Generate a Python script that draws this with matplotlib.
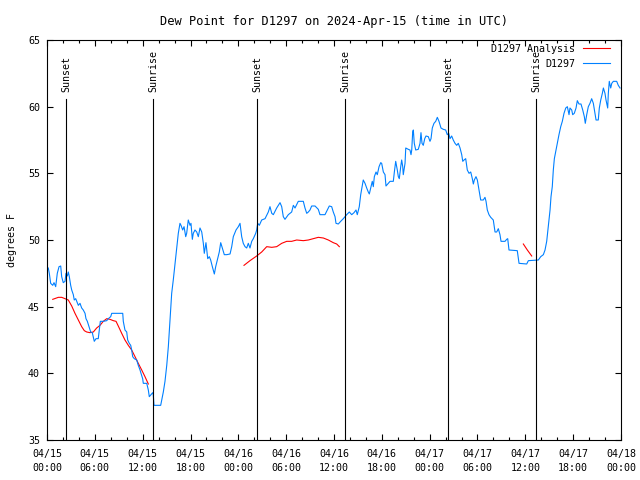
import numpy as np
import matplotlib
matplotlib.use('Agg')
from matplotlib import pyplot as plt
from matplotlib.ticker import MultipleLocator

plt.rcParams['font.family'] = ['DejaVu Sans Mono']
plt.rcParams['font.size'] = 7.2

# observed dew point, hours since 2024-04-15 00:00 UTC
obs_hours = [0.16, 0.29, 0.46, 0.72, 0.88, 1.09, 1.29, 1.51, 1.72, 1.84, 2.04, 2.26, 2.38, 2.55, 2.67,
             2.80, 2.97, 3.10, 3.30, 3.42, 3.60, 3.73, 3.93, 4.14, 4.35, 4.55, 4.77, 4.89, 5.06, 5.27,
             5.48, 5.68, 5.81, 5.93, 6.15, 6.43, 6.56, 6.69, 7.06, 7.49, 7.69, 7.99, 8.12, 9.50, 9.57,
             9.78, 10.00, 10.12, 10.32, 10.50, 10.62, 10.75, 10.95, 11.25, 11.45, 11.67, 11.79, 12.00,
             12.08, 12.51, 12.71, 12.83, 13.05, 13.26, 13.33, 13.42, 14.26, 14.39, 14.59, 14.80, 15.02,
             15.22, 15.43, 15.64, 15.84, 16.06, 16.27, 16.47, 16.68, 16.81, 17.02, 17.19, 17.40, 17.52,
             17.72, 17.94, 18.06, 18.23, 18.35, 18.56, 18.78, 18.98, 19.19, 19.41, 19.61, 19.73, 19.94,
             20.16, 20.36, 20.53, 20.74, 20.99, 21.16, 21.36, 21.61, 21.79, 21.99, 22.24, 22.54, 22.96,
             23.17, 23.37, 23.71, 24.00, 24.21, 24.42, 24.62, 24.84, 25.05, 25.25, 25.46, 25.68, 25.88,
             26.18, 26.30, 26.43, 26.63, 26.93, 27.35, 27.76, 27.97, 28.19, 28.39, 28.81, 29.23, 29.44,
             29.64, 29.85, 30.27, 30.69, 30.90, 31.11, 31.52, 32.15, 32.36, 32.58, 32.78, 32.99, 33.20,
             33.62, 34.03, 34.24, 34.87, 35.16, 35.41, 35.71, 35.91, 36.13, 36.25, 36.54, 36.84, 37.17,
             37.59, 37.92, 38.22, 38.51, 38.76, 38.92, 39.17, 39.35, 39.55, 39.67, 39.89, 40.10, 40.30,
             40.43, 40.64, 40.80, 40.93, 41.06, 41.27, 41.43, 41.65, 41.86, 41.98, 42.19, 42.40, 42.52,
             42.81, 43.03, 43.44, 43.57, 43.74, 43.94, 44.07, 44.19, 44.37, 44.49, 44.62, 44.69, 44.91,
             45.00, 45.32, 45.53, 45.66, 45.75, 45.87, 45.95, 46.07, 46.25, 46.57, 46.79, 46.91, 47.04,
             47.20, 47.38, 47.54, 47.83, 48.04, 48.17, 48.33, 48.54, 48.76, 48.96, 49.17, 49.42, 49.71,
             50.01, 50.21, 50.39, 50.55, 50.76, 50.96, 51.18, 51.39, 51.59, 51.81, 52.02, 52.15, 52.31,
             52.52, 52.72, 52.94, 53.15, 53.35, 53.48, 53.60, 53.81, 53.98, 54.19, 54.40, 54.73, 54.94,
             55.07, 55.23, 55.44, 55.66, 55.98, 56.20, 56.41, 56.61, 56.82, 56.95, 57.45, 57.66, 57.79,
             57.95, 58.99, 59.21, 60.17, 60.38, 61.63, 61.93, 62.26, 62.47, 62.68, 62.88, 63.10, 63.22,
             63.38, 63.51, 63.64, 63.85, 64.01, 64.22, 64.44, 64.64, 64.85, 65.07, 65.27, 65.48, 65.60,
             65.82, 65.94, 66.14, 66.36, 66.52, 66.73, 66.98, 67.20, 67.40, 67.52, 67.70, 67.90, 68.11,
             68.32, 68.53, 68.74, 68.87, 69.15, 69.28, 69.46, 69.66, 69.79, 69.99, 70.12, 70.33, 70.41,
             70.53, 70.71, 70.84, 71.04, 71.46, 71.66, 71.88]
obs_dewpt = [47.9, 47.5, 46.75, 46.6, 46.8, 46.5, 47.5, 48.0, 48.05, 47.25, 46.8, 46.9, 47.5, 47.3, 47.6,
             47.25, 46.6, 46.25, 45.9, 45.5, 45.6, 45.4, 45.1, 45.25, 44.9, 44.75, 44.5, 44.1, 43.9, 43.5,
             43.1, 43.05, 42.7, 42.4, 42.6, 42.6, 43.25, 43.9, 43.9, 43.95, 44.1, 44.25, 44.5, 44.5, 43.9,
             43.25, 43.1, 42.5, 42.25, 42.1, 41.75, 41.25, 41.1, 41.0, 40.6, 40.25, 40.0, 39.6,
             39.25, 39.25, 38.75, 38.25, 38.4, 38.55, 38.4, 37.6, 37.6, 38.0, 38.6, 39.4, 40.6,
             42.0, 44.0, 46.0, 47.0, 48.25, 49.5, 50.5, 51.25, 51.1, 50.75, 51.0, 50.25, 50.5,
             51.5, 51.1, 51.25, 50.05, 50.5, 50.75, 50.6, 50.25, 50.9, 50.6, 49.75, 49.0, 49.8,
             48.6, 48.75, 48.5, 48.0, 47.45, 48.0, 48.5, 49.1, 49.8, 49.4, 48.9, 48.9, 48.95,
             49.5, 50.25, 50.75, 51.0, 51.25, 50.25, 49.75, 49.5, 49.4, 49.75, 49.4, 49.9, 50.1,
             50.5, 50.75, 51.25, 51.1, 51.5, 51.6, 52.1, 52.5, 52.0, 51.9, 52.4, 52.8, 52.5,
             51.75, 51.55, 51.9, 52.1, 52.6, 52.4, 52.9, 52.9, 52.4, 52.0, 52.1, 52.25, 52.55,
             52.55, 52.3, 51.9, 51.9, 52.25, 52.55, 52.5, 52.1, 51.75, 51.25, 51.2, 51.4, 51.6,
             51.9, 52.1, 51.9, 52.05, 52.25, 51.9, 52.5, 53.4, 54.1, 54.5, 54.25, 53.9, 53.6,
             53.45, 54.0, 54.4, 54.0, 54.75, 55.1, 54.9, 55.5, 55.8, 55.75, 55.1, 54.9, 54.05,
             54.25, 54.4, 54.4, 55.1, 55.9, 55.25, 54.75, 54.6, 55.5, 56.0, 55.5, 54.9, 55.75,
             56.9, 56.8, 56.75, 56.4, 56.75, 58.1, 58.25, 57.25, 56.75, 56.8, 57.25, 58.05, 57.25,
             57.1, 57.6, 57.8, 57.75, 57.4, 57.6, 58.4, 58.75, 58.9, 59.2, 58.9, 58.4, 58.3,
             58.25, 57.9, 58.0, 57.6, 57.8, 57.5, 57.25, 57.1, 57.25, 56.9, 56.4, 55.9, 56.0,
             56.1, 55.25, 55.0, 55.1, 54.6, 54.2, 54.5, 54.75, 54.5, 53.75, 53.0, 53.0, 53.2,
             52.9, 52.25, 51.9, 51.7, 51.5, 50.6, 50.6, 50.85, 50.4, 49.9, 49.9, 50.05, 50.1,
             49.25, 49.2, 48.25, 48.2, 48.45, 48.5, 48.75, 48.9, 49.25, 49.9, 51.0, 52.25, 53.25,
             54.0, 55.25, 56.1, 56.75, 57.25, 57.9, 58.5, 58.9, 59.5, 59.9, 60.0, 59.4, 59.9,
             59.75, 59.4, 59.5, 59.9, 60.45, 60.2, 60.2, 59.75, 59.25, 58.75, 59.4, 60.0, 60.25,
             60.6, 60.25, 59.5, 59.0, 59.0, 59.9, 60.5, 61.0, 61.4, 61.0, 60.5, 59.9, 61.0,
             61.9, 61.4, 61.75, 61.9, 61.9, 61.6, 61.4]

# analysis dew point (gaps are NaN)
ana_hours = [0.72, 1.42, 1.84, 2.26, 2.67, 3.10, 3.51, 3.93, 4.35, 4.68, 4.98, 5.39, 5.81, 6.23, 6.65,
             7.06, 7.49, 7.90, 8.32, 8.66, 8.94, 9.37, 9.78, 10.20, 10.62, 11.04, 11.45, 11.88, 12.29,
             12.71, 18.0,
             24.71, 25.46, 26.30, 26.93, 27.56, 28.19, 28.81, 29.44, 30.07, 30.69, 31.32, 32.15, 32.78,
             33.40, 34.03, 34.66, 35.29, 35.91, 36.34, 36.67, 48.0,
             59.75, 60.25, 60.80]
ana_dewpt = [45.55, 45.7, 45.7, 45.6, 45.5, 45.05, 44.5, 44.0, 43.5, 43.2, 43.1, 43.05, 43.1, 43.4, 43.6,
             43.9, 44.1, 44.05, 43.95, 43.9, 43.55, 43.0, 42.5, 42.1, 41.75, 41.25, 40.75, 40.25, 39.75,
             39.2, np.nan,
             48.1, 48.45, 48.8, 49.1, 49.5, 49.45, 49.5, 49.75, 49.9, 49.9, 50.0, 49.95, 50.0,
             50.1, 50.2, 50.15, 50.0, 49.8, 49.7, 49.5, np.nan,
             49.7, 49.25, 48.8]

event_hours = [2.38, 13.30, 26.34, 37.38, 50.30, 61.34]
event_names = ['Sunset', 'Sunrise', 'Sunset', 'Sunrise', 'Sunset', 'Sunrise']

tick_hours = [0, 6, 12, 18, 24, 30, 36, 42, 48, 54, 60, 66, 72]
tick_labels = ['04/15\n00:00', '04/15\n06:00', '04/15\n12:00', '04/15\n18:00',
               '04/16\n00:00', '04/16\n06:00', '04/16\n12:00', '04/16\n18:00',
               '04/17\n00:00', '04/17\n06:00', '04/17\n12:00', '04/17\n18:00',
               '04/18\n00:00']

fig = plt.figure(figsize=(6.4, 4.8), dpi=100)
ax = fig.add_axes([47 / 640, 40 / 480, 574 / 640, 400 / 480])

ax.plot(ana_hours, ana_dewpt, color='#ff0000', lw=0.8, label='D1297 Analysis')
ax.plot(obs_hours, obs_dewpt, color='#0080ff', lw=0.8, label='D1297')

for h, name in zip(event_hours, event_names):
    ax.plot([h, h], [35, 60.6], color='black', lw=0.8)
    ax.text(h, 61.1, name, rotation=90, ha='center', va='bottom')

ax.set_xlim(0, 72)
ax.set_ylim(35, 65)
ax.set_xticks(tick_hours)
ax.set_xticklabels(tick_labels, linespacing=1.45)
ax.xaxis.set_minor_locator(MultipleLocator(2))
ax.set_yticks([35, 40, 45, 50, 55, 60, 65])
ax.tick_params(which='both', direction='in', top=True, right=True, width=0.8)
ax.tick_params(which='major', length=4.5)
ax.tick_params(which='minor', length=2.5)
ax.tick_params(axis='x', pad=6.5)
ax.tick_params(axis='y', pad=5)
for s in ax.spines.values():
    s.set_linewidth(0.8)

ax.set_title('Dew Point for D1297 on 2024-Apr-15 (time in UTC)', pad=11)
ax.set_ylabel('degrees F', labelpad=8)

ax.legend(loc='upper right', bbox_to_anchor=(1 - 11 / 574, 1 - 4 / 400), frameon=False,
          markerfirst=False, handlelength=2.7, handletextpad=0.8, labelspacing=0.5,
          borderaxespad=0, borderpad=0)

fig.savefig('out.png', dpi=100)
